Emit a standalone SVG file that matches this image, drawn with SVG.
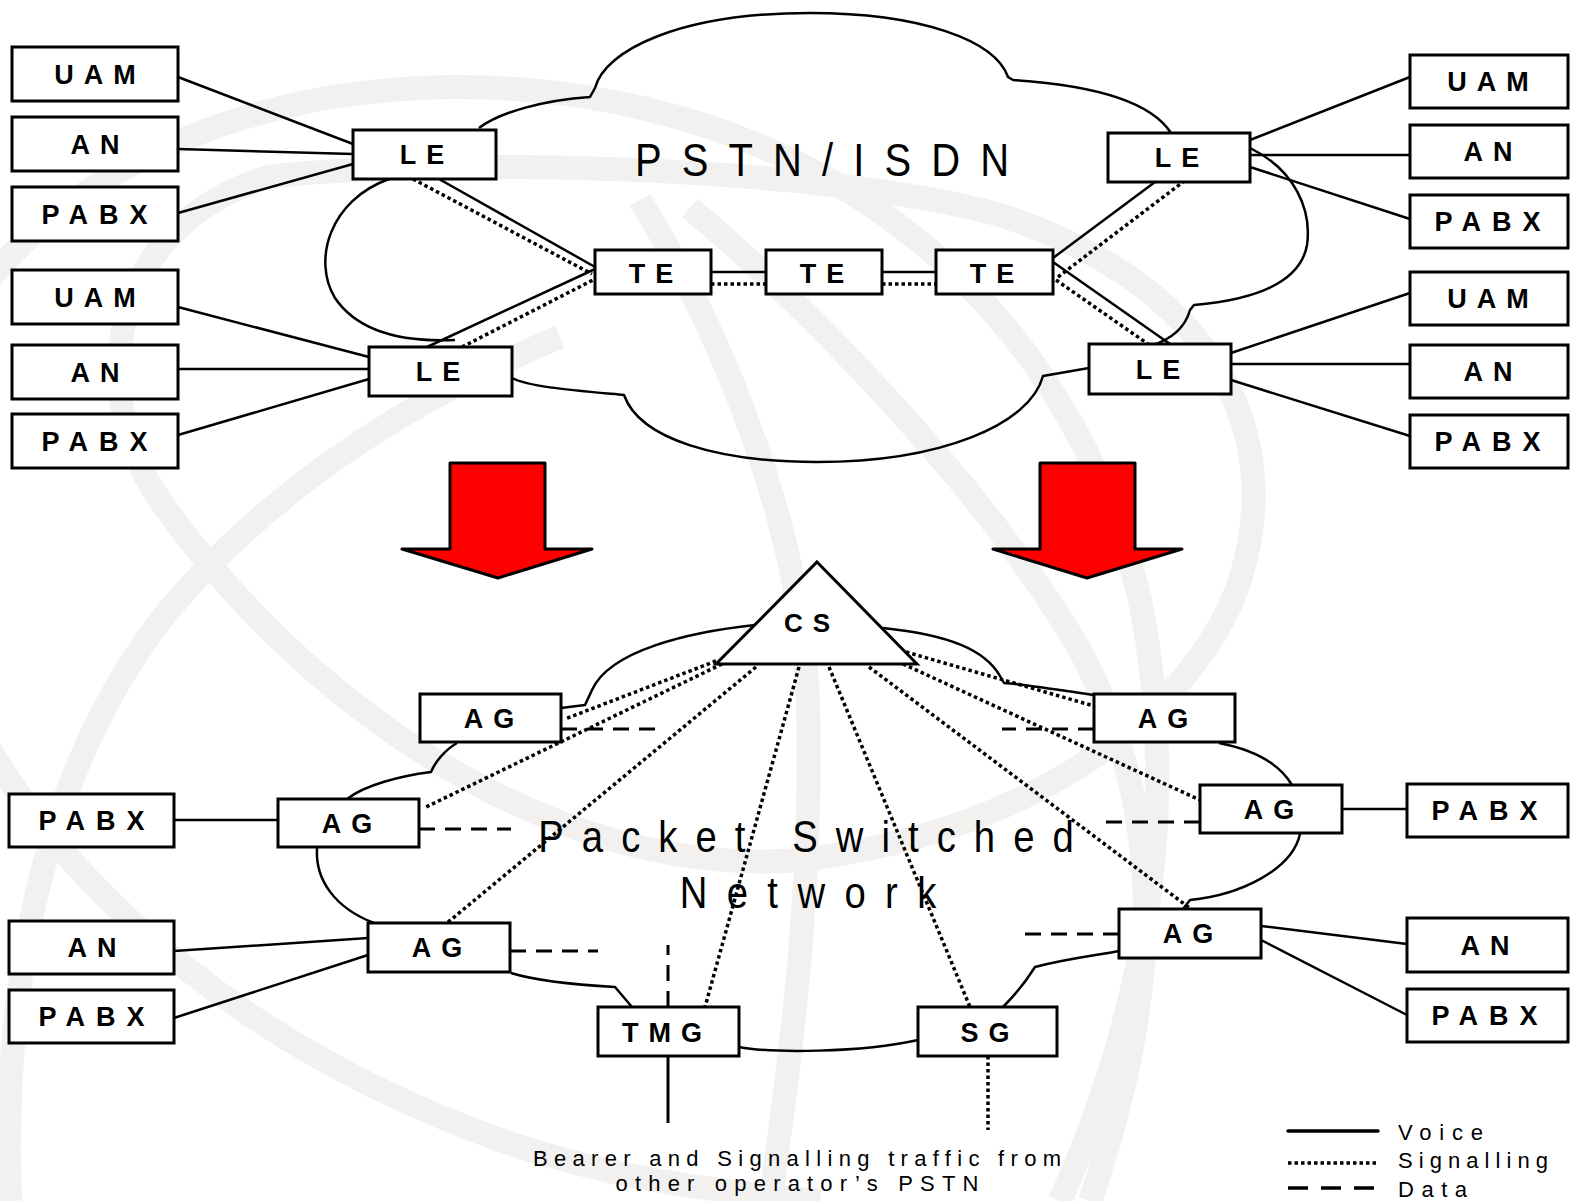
<svg xmlns="http://www.w3.org/2000/svg" width="1573" height="1201" viewBox="0 0 1573 1201">
<style>
.wm{fill:none;stroke:#f2f1ef;stroke-width:24}
.box{fill:#fff;stroke:#000;stroke-width:3}
.lbl{font-family:"Liberation Sans",Arial,sans-serif;font-weight:bold;font-size:27px;letter-spacing:10px;text-anchor:middle;fill:#000}
.lbl4{letter-spacing:11px}
.cloud{fill:none;stroke:#000;stroke-width:2.5;stroke-linejoin:round}
.voice{fill:none;stroke:#000;stroke-width:2.5}
.sig{fill:none;stroke:#000;stroke-width:3.5;stroke-dasharray:3.5 3}
.data{fill:none;stroke:#000;stroke-width:3;stroke-dasharray:16 10}
.big{font-family:"Liberation Sans",Arial,sans-serif;font-size:47px;text-anchor:middle;fill:#000}
.small{font-family:"Liberation Sans",Arial,sans-serif;font-size:22px;fill:#000}
.arrow{fill:#ff0000;stroke:#000;stroke-width:3;stroke-linejoin:round}
</style>
<rect width="1573" height="1201" fill="#fff"/>
<g id="watermark">
<path class="wm" d="M 268,177 C 400,160 800,160 1000,215 C 1200,280 1290,420 1240,580 C 1200,700 1050,830 800,860 C 550,880 300,700 160,500 C 90,400 100,230 268,177 Z"/>
<path class="wm" d="M -20,290 C 150,80 450,60 650,110 C 900,170 1080,350 1140,600 C 1180,800 1150,1000 1060,1201"/>
<path class="wm" d="M 10,1201 C 0,950 60,720 200,575 C 300,470 430,390 560,337"/>
<path class="wm" d="M -10,750 C 80,900 250,1050 500,1140 C 600,1175 700,1190 820,1201"/>
<path class="wm" d="M 640,200 C 720,330 800,520 808,700 C 812,850 800,1000 770,1201"/>
<path class="wm" d="M 690,208 C 800,300 980,480 1080,650 C 1170,820 1160,1000 1090,1201"/>
</g>
<g id="clouds">
<path class="cloud" d="M 479,128 C 500,112 545,100 590,97 L 595,88 C 605,50 680,13 810,13 C 920,13 995,40 1008,77 L 1013,80 C 1090,85 1150,100 1171,133"/>
<path class="cloud" d="M 1250,148 C 1295,170 1312,210 1307,245 C 1300,285 1250,300 1194,305 L 1190,310 C 1185,328 1170,340 1150,346"/>
<path class="cloud" d="M 1089,368 L 1043,376 C 1030,425 940,462 817,462 C 720,462 640,440 624,395 C 570,390 530,387 512,378"/>
<path class="cloud" d="M 389,179 C 330,200 312,260 335,298 C 360,335 410,342 455,340"/>
<path class="cloud" d="M 755,625 C 690,632 610,650 592,690 L 585,705 L 561,708"/>
<path class="cloud" d="M 457,743 C 445,750 435,762 431,772 C 400,776 365,785 347,799"/>
<path class="cloud" d="M 317,848 C 315,880 335,908 374,923"/>
<path class="cloud" d="M 511,973 C 540,982 580,985 615,987 L 632,1007"/>
<path class="cloud" d="M 739,1047 C 770,1053 860,1053 918,1040"/>
<path class="cloud" d="M 1003,1007 C 1020,990 1030,975 1035,967 C 1070,958 1100,955 1119,951"/>
<path class="cloud" d="M 1183,909 L 1190,900 C 1240,895 1292,870 1300,834"/>
<path class="cloud" d="M 1292,785 C 1280,765 1255,750 1219,743"/>
<path class="cloud" d="M 1094,695 C 1060,690 1030,685 1004,683 L 1000,676 C 985,650 950,635 883,628"/>
</g>
<g id="connectors">
<line class="voice" x1="178" y1="77" x2="353" y2="144"/>
<line class="voice" x1="178" y1="149" x2="353" y2="154"/>
<line class="voice" x1="178" y1="213" x2="353" y2="164"/>
<line class="voice" x1="178" y1="307" x2="369" y2="357"/>
<line class="voice" x1="178" y1="369" x2="369" y2="369"/>
<line class="voice" x1="178" y1="435" x2="369" y2="379"/>
<line class="voice" x1="1250" y1="140" x2="1410" y2="77"/>
<line class="voice" x1="1250" y1="155" x2="1410" y2="155"/>
<line class="voice" x1="1250" y1="167" x2="1410" y2="219"/>
<line class="voice" x1="1231" y1="353" x2="1410" y2="293"/>
<line class="voice" x1="1231" y1="364" x2="1410" y2="364"/>
<line class="voice" x1="1231" y1="380" x2="1410" y2="436"/>
<line class="voice" x1="439" y1="179" x2="595" y2="267"/>
<line class="sig" x1="413" y1="179" x2="592" y2="274"/>
<line class="voice" x1="427" y1="347" x2="595" y2="269"/>
<line class="sig" x1="462" y1="347" x2="595" y2="279"/>
<line class="voice" x1="711" y1="272" x2="766" y2="272"/>
<line class="sig" x1="711" y1="284" x2="766" y2="284"/>
<line class="voice" x1="882" y1="272" x2="936" y2="272"/>
<line class="sig" x1="882" y1="284" x2="936" y2="284"/>
<line class="voice" x1="1053" y1="258" x2="1155" y2="182"/>
<line class="sig" x1="1058" y1="277" x2="1183" y2="182"/>
<line class="voice" x1="1053" y1="262" x2="1170" y2="344"/>
<line class="sig" x1="1056" y1="280" x2="1148" y2="344"/>
<line class="sig" x1="716" y1="661" x2="565" y2="719"/>
<line class="sig" x1="722" y1="664" x2="424" y2="808"/>
<line class="sig" x1="756" y1="667" x2="447" y2="923"/>
<line class="sig" x1="799" y1="667" x2="705" y2="1007"/>
<line class="sig" x1="829" y1="667" x2="970" y2="1007"/>
<line class="sig" x1="869" y1="667" x2="1191" y2="909"/>
<line class="sig" x1="903" y1="664" x2="1200" y2="800"/>
<line class="sig" x1="906" y1="652" x2="1094" y2="706"/>
<line class="data" x1="561" y1="729" x2="655" y2="729"/>
<line class="data" x1="1094" y1="729" x2="1002" y2="729"/>
<line class="data" x1="419" y1="829" x2="511" y2="829"/>
<line class="data" x1="1200" y1="822" x2="1106" y2="822"/>
<line class="data" x1="510" y1="951" x2="598" y2="951"/>
<line class="data" x1="1119" y1="934" x2="1023" y2="934"/>
<line class="data" x1="668" y1="1007" x2="668" y2="945"/>
<line class="voice" x1="174" y1="820" x2="278" y2="820"/>
<line class="voice" x1="174" y1="951" x2="368" y2="938"/>
<line class="voice" x1="174" y1="1018" x2="368" y2="955"/>
<line class="voice" x1="1261" y1="926" x2="1407" y2="944"/>
<line class="voice" x1="1261" y1="940" x2="1407" y2="1015"/>
<line class="voice" x1="1342" y1="809" x2="1407" y2="809"/>
<line class="voice" x1="668" y1="1056" x2="668" y2="1123" style="stroke-width:3"/>
<line class="sig" x1="988" y1="1056" x2="988" y2="1130"/>
</g>
<g id="arrows">
<path class="arrow" d="M 450,463 L 545,463 L 545,549 L 592,549 L 498,578 L 402,549 L 450,549 Z"/>
<path class="arrow" d="M 1040,463 L 1135,463 L 1135,549 L 1182,549 L 1087,578 L 993,549 L 1040,549 Z"/>
</g>
<g id="uam1"><rect class="box" x="12" y="47" width="166" height="54"/><text class="lbl" x="100" y="84">UAM</text></g>
<g id="an1"><rect class="box" x="12" y="117" width="166" height="54"/><text class="lbl" x="100" y="154">AN</text></g>
<g id="pabx1"><rect class="box" x="12" y="187" width="166" height="54"/><text class="lbl lbl4" x="100" y="224">PABX</text></g>
<g id="uam2"><rect class="box" x="12" y="270" width="166" height="54"/><text class="lbl" x="100" y="307">UAM</text></g>
<g id="an2"><rect class="box" x="12" y="345" width="166" height="54"/><text class="lbl" x="100" y="382">AN</text></g>
<g id="pabx2"><rect class="box" x="12" y="414" width="166" height="54"/><text class="lbl lbl4" x="100" y="451">PABX</text></g>
<g id="uam3"><rect class="box" x="1410" y="55" width="158" height="53"/><text class="lbl" x="1493" y="91">UAM</text></g>
<g id="an3"><rect class="box" x="1410" y="125" width="158" height="53"/><text class="lbl" x="1493" y="161">AN</text></g>
<g id="pabx3"><rect class="box" x="1410" y="195" width="158" height="53"/><text class="lbl lbl4" x="1493" y="231">PABX</text></g>
<g id="uam4"><rect class="box" x="1410" y="272" width="158" height="53"/><text class="lbl" x="1493" y="308">UAM</text></g>
<g id="an4"><rect class="box" x="1410" y="345" width="158" height="53"/><text class="lbl" x="1493" y="381">AN</text></g>
<g id="pabx4"><rect class="box" x="1410" y="415" width="158" height="53"/><text class="lbl lbl4" x="1493" y="451">PABX</text></g>
<g id="le1"><rect class="box" x="353" y="130" width="143" height="49"/><text class="lbl" x="427" y="164">LE</text></g>
<g id="le2"><rect class="box" x="369" y="347" width="143" height="49"/><text class="lbl" x="443" y="381">LE</text></g>
<g id="le3"><rect class="box" x="1108" y="133" width="142" height="49"/><text class="lbl" x="1182" y="167">LE</text></g>
<g id="le4"><rect class="box" x="1089" y="344" width="142" height="50"/><text class="lbl" x="1163" y="379">LE</text></g>
<g id="te1"><rect class="box" x="595" y="250" width="116" height="44"/><text class="lbl" x="656" y="283">TE</text></g>
<g id="te2"><rect class="box" x="766" y="250" width="116" height="44"/><text class="lbl" x="827" y="283">TE</text></g>
<g id="te3"><rect class="box" x="936" y="250" width="117" height="44"/><text class="lbl" x="997" y="283">TE</text></g>
<g id="cs"><path class="box" d="M 817,562 L 917,664 L 716,664 Z" style="stroke-linejoin:miter"/><text class="lbl" x="812" y="632" style="font-size:26px">CS</text></g>
<g id="ag1"><rect class="box" x="420" y="694" width="141" height="48"/><text class="lbl" x="494" y="728">AG</text></g>
<g id="ag2"><rect class="box" x="278" y="799" width="141" height="48"/><text class="lbl" x="352" y="833">AG</text></g>
<g id="ag3"><rect class="box" x="368" y="923" width="142" height="49"/><text class="lbl" x="442" y="957">AG</text></g>
<g id="ag4"><rect class="box" x="1094" y="694" width="141" height="48"/><text class="lbl" x="1168" y="728">AG</text></g>
<g id="ag5"><rect class="box" x="1200" y="785" width="142" height="48"/><text class="lbl" x="1274" y="819">AG</text></g>
<g id="ag6"><rect class="box" x="1119" y="909" width="142" height="49"/><text class="lbl" x="1193" y="943">AG</text></g>
<g id="pabx5"><rect class="box" x="9" y="794" width="165" height="53"/><text class="lbl lbl4" x="97" y="830">PABX</text></g>
<g id="an5"><rect class="box" x="9" y="921" width="165" height="53"/><text class="lbl" x="97" y="957">AN</text></g>
<g id="pabx6"><rect class="box" x="9" y="990" width="165" height="53"/><text class="lbl lbl4" x="97" y="1026">PABX</text></g>
<g id="pabx7"><rect class="box" x="1407" y="784" width="161" height="53"/><text class="lbl lbl4" x="1490" y="820">PABX</text></g>
<g id="an7"><rect class="box" x="1407" y="918" width="161" height="54"/><text class="lbl" x="1490" y="955">AN</text></g>
<g id="pabx8"><rect class="box" x="1407" y="989" width="161" height="53"/><text class="lbl lbl4" x="1490" y="1025">PABX</text></g>
<g id="tmg"><rect class="box" x="598" y="1007" width="141" height="49"/><text class="lbl" x="667" y="1042">TMG</text></g>
<g id="sg"><rect class="box" x="918" y="1007" width="139" height="49"/><text class="lbl" x="990" y="1042">SG</text></g>
<g id="labels">
<text class="big" transform="translate(822,176) scale(0.85,1)" textLength="440" lengthAdjust="spacing">PSTN/ISDN</text>
<text class="big" transform="translate(806,852) scale(0.85,1)" style="font-size:45px" textLength="630" lengthAdjust="spacing">Packet Switched</text>
<text class="big" transform="translate(808,908) scale(0.85,1)" style="font-size:45px" textLength="302" lengthAdjust="spacing">Network</text>
<text class="small" x="797" y="1166" text-anchor="middle" textLength="528" lengthAdjust="spacing">Bearer and Signalling traffic from</text>
<text class="small" x="797" y="1191" text-anchor="middle" textLength="363" lengthAdjust="spacing">other operator’s PSTN</text>
</g>
<g id="legend">
<line class="voice" x1="1288" y1="1131" x2="1378" y2="1131" style="stroke-width:3.5;stroke-linecap:round"/>
<line class="sig" x1="1288" y1="1163" x2="1378" y2="1163"/>
<line class="data" x1="1288" y1="1188" x2="1378" y2="1188" style="stroke-dasharray:20 13;stroke-width:3.5"/>
<text class="small" x="1398" y="1140" textLength="85" lengthAdjust="spacing">Voice</text>
<text class="small" x="1398" y="1168" textLength="150" lengthAdjust="spacing">Signalling</text>
<text class="small" x="1398" y="1197" textLength="69" lengthAdjust="spacing">Data</text>
</g>
</svg>
